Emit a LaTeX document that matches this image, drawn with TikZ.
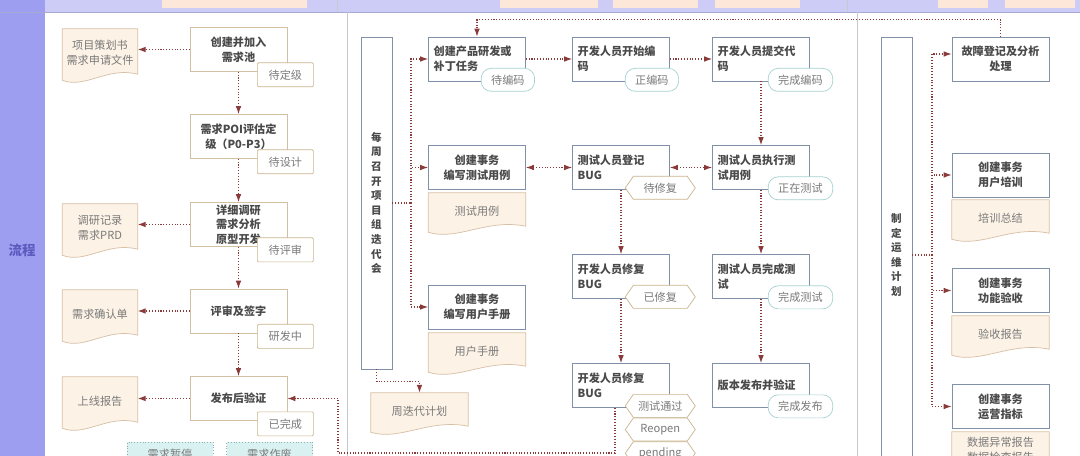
\documentclass[tikz,border=0pt]{standalone}
\usepackage{fontspec}
\setmainfont{Noto Sans CJK SC}
\usetikzlibrary{arrows.meta,calc,shapes.symbols,backgrounds}

\definecolor{lanebar}{HTML}{9E9EF0}
\definecolor{lanetxt}{HTML}{5C5CC0}
\definecolor{headbar}{HTML}{CCCCF7}
\definecolor{headline}{HTML}{A8A8D4}
\definecolor{headbox}{HTML}{FCE7D8}
\definecolor{sepline}{HTML}{C8C8D0}
\definecolor{flowc}{HTML}{8B3A3A}
\definecolor{boxline}{HTML}{8090A8}
\definecolor{reqline}{HTML}{D3BFA4}
\definecolor{boxtxt}{HTML}{4A4A4A}
\definecolor{docfill}{HTML}{FCF2E6}
\definecolor{docline}{HTML}{D8C0A6}
\definecolor{doctxt}{HTML}{7A7A7A}
\definecolor{tagline}{HTML}{C9B48E}
\definecolor{pillline}{HTML}{A6D2D0}
\definecolor{holdfill}{HTML}{DAF1F1}
\definecolor{holdline}{HTML}{8AB0B0}

\begin{document}
\begin{tikzpicture}[x=0.03cm, y=-0.03cm, font=\fontsize{9.5}{12.5}\selectfont,
  procbox/.style={draw=boxline, fill=white, line width=0.6pt, minimum width=2.91cm,
    minimum height=1.32cm, inner sep=1pt, align=center, text=boxtxt,
    font=\fontsize{9.5}{13}\selectfont\bfseries},
  procleft/.style={procbox, text width=2.6cm, align=left},
  reqbox/.style={procbox, draw=reqline, font=\fontsize{9.5}{12.5}\selectfont\bfseries},
  tallbox/.style={procbox, minimum width=0.93cm, font=\fontsize{9}{12.45}\selectfont\bfseries},
  docnode/.style={minimum width=2.91cm, minimum height=1.08cm, inner sep=1pt,
    align=center, text=doctxt},
  reqdoc/.style={docnode, minimum width=2.25cm, minimum height=1.44cm},
  stagtag/.style={draw=tagline, fill=white, line width=0.6pt, rounded corners=1pt,
    minimum width=1.68cm, minimum height=0.72cm, inner sep=1pt, text=doctxt},
  pilltag/.style={draw=pillline, fill=white, line width=0.6pt, rounded corners=0.3cm,
    minimum height=0.69cm, inner xsep=0.3cm, inner ysep=1pt, text=doctxt, anchor=west},
  hextag/.style={draw=tagline, fill=white, line width=0.6pt, signal,
    signal to=west and east, signal pointer angle=110, minimum width=2.1cm,
    minimum height=0.69cm, inner sep=1pt, text=doctxt},
  holdbox/.style={draw=holdline, fill=holdfill, dotted, minimum width=2.58cm,
    minimum height=0.72cm, inner sep=1pt, text=doctxt},
  flowline/.style={draw=flowc, line width=0.9pt, dash pattern=on 0.9pt off 1.5pt},
  flowarrow/.style={flowline, -{Latex[length=2.4mm,width=1.7mm]}},
  flowboth/.style={flowline, {Latex[length=2.4mm,width=1.7mm]}-{Latex[length=2.4mm,width=1.7mm]}}]

  \useasboundingbox (0,0) rectangle (1080,456);
  \clip (0,0) rectangle (1080,456);

  % lanes and header
  \fill[headbar] (45,0) rectangle (1080,12);
  \foreach \a/\b in {162/307, 500/598, 613/698, 715/800, 938/988, 1005/1075} {
    \fill[headbox] (\a,0) rectangle (\b,8);
  }
  \fill[lanebar] (0,0) rectangle (45,456);
  \draw[headline, line width=0.6pt] (0,12) -- (1080,12);
  \draw[sepline, line width=0.6pt] (337,0) -- (337,12) (847,0) -- (847,12);
  \draw[sepline, line width=0.8pt] (347,12) -- (347,456) (857,12) -- (857,456);
  \node[text=lanetxt, font=\fontsize{11.5}{12}\selectfont\bfseries] (lanename) at (22,250) {流程};

  % requirement lane
  \node[reqbox] (b1) at (238.5,49.5) {创建并加入\\需求池};
  \node[reqbox] (b2) at (238.5,136.5) {需求POI评估定\\级（P0-P3）};
  \node[reqbox] (b3) at (238.5,224.5) {详细调研\\需求分析\\原型开发};
  \node[reqbox] (b4) at (238.5,311) {评审及签字};
  \node[reqbox] (b5) at (238.5,398.5) {发布后验证};
  \node[reqdoc] (d1) at (100,53) {项目策划书\\需求申请文件};
  \node[reqdoc] (d2) at (100,228) {调研记录\\需求PRD};
  \node[reqdoc] (d3) at (100,314) {需求确认单};
  \node[reqdoc] (d4) at (100,401) {上线报告};
  \node[stagtag] (t1) at ([shift={(-2,3)}]b1.south east) {待定级};
  \node[stagtag] (t2) at ([shift={(-2,3)}]b2.south east) {待设计};
  \node[stagtag] (t3) at ([shift={(-2,3)}]b3.south east) {待评审};
  \node[stagtag] (t4) at ([shift={(-2,3)}]b4.south east) {研发中};
  \node[stagtag] (t5) at ([shift={(-2,3)}]b5.south east) {已完成};
  \node[holdbox] (q1) at (170,454) {需求暂停};
  \node[holdbox] (q2) at (269.5,454) {需求作废};

  % iteration lane
  \node[tallbox, minimum height=9.96cm] (w1) at (376.5,203) {每\\周\\召\\开\\项\\目\\组\\迭\\代\\会};
  \node[procleft] (c1) at (477,59) {创建产品研发或\\补丁任务};
  \node[procbox] (c2) at (477,167.5) {创建事务\\编写测试用例};
  \node[procbox] (c3) at (477,307) {创建事务\\编写用户手册};
  \node[procleft] (c4) at (621,59) {开发人员开始编\\码};
  \node[procleft] (c5) at (761,59) {开发人员提交代\\码};
  \node[procleft] (c6) at (621,167.5) {测试人员登记\\BUG};
  \node[procleft] (c7) at (761,167.5) {测试人员执行测\\试用例};
  \node[procleft] (c8) at (621,276.5) {开发人员修复\\BUG};
  \node[procleft] (c9) at (761,276.5) {测试人员完成测\\试};
  \node[procleft] (c10) at (621,385.5) {开发人员修复\\BUG};
  \node[procleft] (c11) at (761,385.5) {版本发布并验证};
  \node[docnode] (tcase) at (477,211) {测试用例};
  \node[docnode] (umanual) at (477,351) {用户手册};
  \node[docnode] (plan) at (419.5,411) {周迭代计划};
  \node[pilltag] (s1) at ([shift={(-45,-1.5)}]c1.south east) {待编码};
  \node[pilltag] (s4) at ([shift={(-45,-1.5)}]c4.south east) {正编码};
  \node[pilltag] (s5) at ([shift={(-42,-1.5)}]c5.south east) {完成编码};
  \node[pilltag] (s7) at ([shift={(-42,-1.5)}]c7.south east) {正在测试};
  \node[pilltag] (s9) at ([shift={(-42,-1.5)}]c9.south east) {完成测试};
  \node[pilltag] (s11) at ([shift={(-42,-1.5)}]c11.south east) {完成发布};
  \node[hextag, anchor=west] (h1) at ([shift={(-45,-2)}]c6.south east) {待修复};
  \node[hextag, anchor=west] (h2) at ([shift={(-45,-2)}]c8.south east) {已修复};
  \node[hextag, anchor=west] (h3) at ([shift={(-45,-2)}]c10.south east) {测试通过};
  \node[hextag, anchor=north] (h4) at (h3.south) {Reopen};
  \node[hextag, anchor=north] (h5) at (h4.south) {pending};

  % operation lane
  \node[tallbox, minimum height=13.08cm] (p1) at (896.5,255) {制\\定\\运\\维\\计\\划};
  \node[procbox] (f1) at (1000.5,59) {故障登记及分析\\处理};
  \node[procbox] (f2) at (1000.5,175) {创建事务\\用户培训};
  \node[procbox] (f3) at (1000.5,290.5) {创建事务\\功能验收};
  \node[procbox] (f4) at (1000.5,406.5) {创建事务\\运营指标};
  \node[docnode] (train) at (1000.5,218) {培训总结};
  \node[docnode] (accept) at (1000.5,334) {验收报告};
  \node[docnode] (opsrep) at (1000.5,450) {数据异常报告\\数据检查报告};

  % document outlines
  \begin{scope}[on background layer]
    \fill[white] (45,12) rectangle (1080,456);
    \foreach \n in {d1,d2,d3,d4,tcase,umanual,plan,train,accept,opsrep} {
      \draw[docline, fill=docfill, line width=0.6pt] (\n.north west) -- (\n.north east)
        -- ($(\n.south east)+(0,-3)$)
        .. controls ($(\n.south west)!0.6!(\n.south east)+(0,-11)$)
        and ($(\n.south west)!0.3!(\n.south east)+(0,12)$) .. ($(\n.south west)+(0,3)$)
        -- cycle;
    }
  \end{scope}

  % connectors
  \coordinate (wk) at (411,203);
  \coordinate (pk) at (932,255);
  \coordinate (rb) at (338,453);
  \foreach \u/\v in {b1/b2, b2/b3, b3/b4, b4/b5} {
    \draw[flowarrow] (\u.south) -- (\v.north);
  }
  \foreach \u/\v in {b1/d1, b3/d2, b4/d3, b5/d4} {
    \draw[flowarrow] (\u.west) -- (\u.west -| \v.east);
  }
  \draw[flowarrow] ([xshift=-0.18cm]c10.south) |- (rb) |- (b5.east);
  \draw[flowarrow] (w1.south) -- ++(0,12) -| (plan.north);
  \draw[flowline] (w1.east |- wk) -- (wk);
  \foreach \v in {c1, c2, c3} {
    \draw[flowarrow] (wk) |- (\v.west);
  }
  \draw[flowarrow] (f1.north) -- ++(0,-17) -| (c1.north);
  \foreach \u/\v in {c1/c4, c4/c5} {
    \draw[flowarrow] (\u.east) -- (\v.west);
  }
  \foreach \u/\v in {c2/c6, c6/c7} {
    \draw[flowboth] (\u.east) -- (\v.west);
  }
  \foreach \u/\v in {c5/c7, c7/c9, c9/c11, c6/c8, c8/c10} {
    \draw[flowarrow] (\u.south) -- (\v.north);
  }
  \draw[flowline] (p1.east |- pk) -- (pk);
  \draw[flowarrow] (pk) |- ([yshift=0.15cm]f1.west);
  \foreach \v in {f2, f3, f4} {
    \draw[flowarrow] (pk) |- (\v.west);
  }
\end{tikzpicture}
\end{document}
